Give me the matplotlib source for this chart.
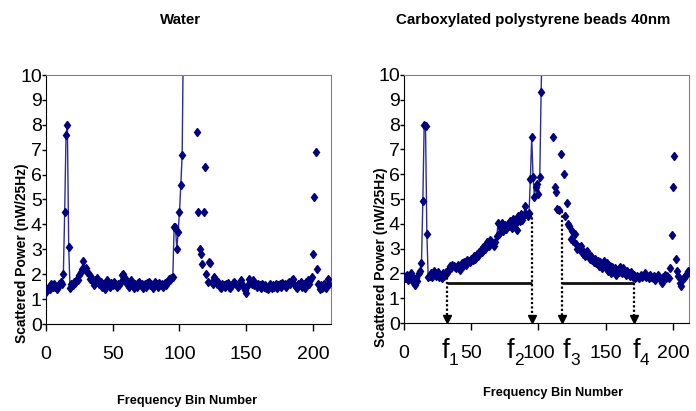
import numpy as np
import matplotlib
matplotlib.use("Agg")
import matplotlib.pyplot as plt

nan = np.nan

# scattered power (nW/25Hz) per frequency bin, 0..212
water = [
    1.3, 1.4, 1.5, 1.4, 1.6, 1.5, 1.6, 1.5, 1.4, 1.5,
    1.6, 1.7, 1.6, 2.0, 4.5, 7.6, 8.0, 3.1, 1.45, 1.6,
    1.55, 1.7, 1.65, 1.8, 1.75, 1.95, 2.1, 2.2, 2.55, 2.2,
    2.25, 2.1, 2.0, 1.8, 1.9, 1.7, 1.55, 1.75, 1.85, 1.7,
    1.6, 1.7, 1.5, 1.6, 1.4, 1.55, 1.75, 1.6, 1.5, 1.65,
    1.55, 1.7, 1.6, 1.5, 1.6, 1.55, 1.7, 1.95, 2.0, 1.85,
    1.7, 1.6, 1.5, 1.65, 1.75, 1.55, 1.45, 1.6, 1.5, 1.65,
    1.7, 1.55, 1.6, 1.45, 1.6, 1.5, 1.65, 1.7, 1.55, 1.6,
    1.45, 1.55, 1.7, 1.6, 1.5, 1.65, 1.55, 1.6, 1.5, 1.65,
    1.55, 1.7, 1.8, 1.75, 1.85, 1.9, 3.9, 3.9, 3.0, 3.7,
    4.5, 5.6, 6.8, 12.0, nan, nan, nan, nan, nan, nan,
    nan, nan, nan, 7.7, 4.5, 3.0, 2.8, 2.4, 4.5, 6.3,
    2.0, 1.7, 2.5, 2.45, 1.7, 1.6, 1.9, 1.75, 1.6, 1.7,
    1.5, 1.45, 1.6, 1.55, 1.5, 1.6, 1.65, 1.5, 1.45, 1.55,
    1.65, 1.7, 1.6, 1.55, 1.5, 1.6, 1.75, 1.6, 1.45, 1.35,
    1.25, 1.55, 1.8, 1.7, 1.6, 1.75, 1.55, 1.6, 1.5, 1.6,
    1.55, 1.45, 1.6, 1.5, 1.55, 1.45, 1.4, 1.5, 1.6, 1.45,
    1.55, 1.5, 1.6, 1.45, 1.55, 1.6, 1.5, 1.65, 1.55, 1.6,
    1.5, 1.65, 1.7, 1.6, 1.75, 1.8, 1.6, 1.5, 1.45, 1.6,
    1.55, 1.7, 1.5, 1.6, 1.45, 1.7, 1.75, 1.6, 1.75, 1.9,
    2.8, 5.1, 6.9, 2.2, 1.6, 1.4, 1.55, 1.45, 1.6, 1.5,
    1.45, 1.8, 1.6,
]

beads = [
    1.9, 1.8, 1.95, 1.75, 1.85, 2.0, 1.9, 1.65, 1.55, 1.8,
    1.7, 2.0, 2.1, 2.4, 4.9, 8.0, 7.95, 3.6, 1.85, 1.9,
    2.0, 1.85, 2.1, 2.0, 1.9, 2.05, 1.85, 1.95, 1.8, 2.0,
    1.9, 2.05, 2.0, 2.15, 2.3, 2.2, 2.35, 2.3, 2.25, 2.2,
    2.35, 2.3, 2.15, 2.4, 2.3, 2.45, 2.35, 2.55, 2.5, 2.45,
    2.6, 2.55, 2.7, 2.6, 2.8, 2.7, 2.85, 2.95, 2.85, 3.05,
    3.0, 3.15, 3.25, 3.1, 3.35, 3.3, 3.2, 3.1, 3.25, 3.5,
    4.05, 3.6, 3.85, 4.05, 3.7, 3.95, 3.8, 4.0, 3.9, 4.1,
    3.85, 4.2, 3.95, 4.05, 3.75, 4.3, 4.1, 4.4, 4.15, 4.35,
    4.7, 4.4, 4.3, 4.45, 5.8, 7.5, 5.9, 5.1, 5.5, 5.6,
    5.2, 5.9, 9.3, 12.0, nan, nan, nan, nan, nan, nan,
    nan, 7.5, 5.5, 5.3, 4.6, 4.55, nan, 6.8, nan, 6.0,
    4.3, 4.85, 4.0, 3.9, 3.4, 3.7, 3.3, 3.6, 3.2, 3.0,
    3.05, 2.95, 3.1, 2.8, 2.85, 2.7, 2.9, 2.75, 2.6, 2.7,
    2.55, 2.45, 2.6, 2.4, 2.5, 2.3, 2.45, 2.2, 2.35, 2.5,
    2.2, 2.4, 2.1, 2.3, 2.0, 2.25, 2.05, 2.2, 1.95, 2.15,
    2.05, 2.25, 2.0, 2.2, 2.1, 1.95, 2.1, 2.0, 1.9, 2.05,
    1.85, 1.95, 1.8, 1.9, 1.85, 1.8, 1.95, 1.85, 1.9, 2.0,
    1.85, 1.9, 1.8, 1.95, 1.85, 1.8, 1.9, 1.75, 1.85, 1.95,
    1.8, 1.75, 1.6, 1.85, 1.95, 1.8, 1.9, 1.8, 2.2, 3.55,
    5.5, 6.75, 2.6, 2.1, 1.9, 1.6, 1.5, 1.75, 1.8, 1.9,
    1.95, 2.1, 2.05,
]

bins = np.arange(len(water))

# half-power markers on the beads spectrum
f_bins = [32, 95, 117.5, 171]
f_tops = [2.0, 4.45, 4.5, 1.6]
f_names = ["1", "2", "3", "4"]
half_level = 1.6

x_ticks = [0, 50, 100, 150, 200]
x_ticklabels = ["0", "50", "100", "150", "200"]
y_ticks = list(range(0, 11))

plt.rcParams["font.family"] = ["Liberation Sans", "DejaVu Sans"]

NAVY = "#000080"
LINE = "#2b2b9c"
W, H = 696, 411

fig = plt.figure(figsize=(W / 100, H / 100), dpi=100)


def make_axes(left, right, top, bottom):
    return fig.add_axes([left / W, 1 - bottom / H, (right - left) / W, (bottom - top) / H])


def style_axes(ax, xmax):
    ax.set_xlim(0, xmax)
    ax.set_ylim(0, 10)
    ax.set_xticks(x_ticks)
    ax.set_xticklabels(x_ticklabels)
    ax.set_yticks(y_ticks)
    ax.tick_params(axis="x", direction="out", length=5, width=1, pad=11, labelsize=14)
    ax.tick_params(axis="y", direction="out", length=3, width=1, pad=0, labelsize=14)
    for s in ["top", "right"]:
        ax.spines[s].set_color("#808080")
    for s in ["left", "bottom"]:
        ax.spines[s].set_color("black")
    ax.patch.set_alpha(0)


def draw_spectrum(ax, values):
    # connected part up to the main peak, scattered markers after it
    ax.plot(bins[:104], values[:104], "-", color=LINE, lw=1.0, zorder=2)
    ax.plot(bins, values, "d", color=NAVY, mec=NAVY, ms=4.5, zorder=3)


ax1 = make_axes(46, 331, 75, 324)
draw_spectrum(ax1, water)
style_axes(ax1, 213.5)

ax2 = make_axes(404, 689, 75, 323)
draw_spectrum(ax2, beads)
style_axes(ax2, 212)

# threshold lines and arrows
ax2.hlines(half_level, f_bins[0], f_bins[1], color="#111111", lw=2, zorder=4)
ax2.hlines(half_level, f_bins[2], f_bins[3], color="#111111", lw=2, zorder=4)
for fb, top in zip(f_bins, f_tops):
    ax2.plot([fb, fb], [top, 0.3], color="black", lw=1.6, ls=(0, (1, 1)), zorder=4)
    ax2.plot(fb, 0.18, "v", color="black", ms=6, zorder=5, clip_on=False)

f_label_x = [30.9, 79, 121, 173]
trans = ax2.get_xaxis_transform()
for fx, name in zip(f_label_x, f_names):
    ax2.text(fx, -0.141, "f", transform=trans, ha="center", va="baseline",
             fontsize=19.5, clip_on=False)
    ax2.text(fx + 2.6, -0.169, name, transform=trans, ha="left", va="baseline",
             fontsize=12.5, clip_on=False)

# titles and axis labels
fig.text(181 / W, 1 - 20 / H, "Water", ha="center", va="center",
         fontsize=10.8, fontweight="bold")
fig.text(533 / W, 1 - 20 / H, "Carboxylated polystyrene beads 40nm", ha="center",
         va="center", fontsize=10.8, fontweight="bold")
fig.text(187 / W, 1 - 401 / H, "Frequency Bin Number", ha="center", va="center",
         fontsize=9.2, fontweight="bold")
fig.text(553 / W, 1 - 393 / H, "Frequency Bin Number", ha="center", va="center",
         fontsize=9.2, fontweight="bold")
fig.text(22 / W, 1 - 253 / H, "Scattered Power (nW/25Hz)", ha="center", va="center",
         rotation=90, fontsize=10, fontweight="bold")
fig.text(381 / W, 1 - 257 / H, "Scattered Power (nW/25Hz)", ha="center", va="center",
         rotation=90, fontsize=10, fontweight="bold")

fig.savefig("out.png", dpi=100)
